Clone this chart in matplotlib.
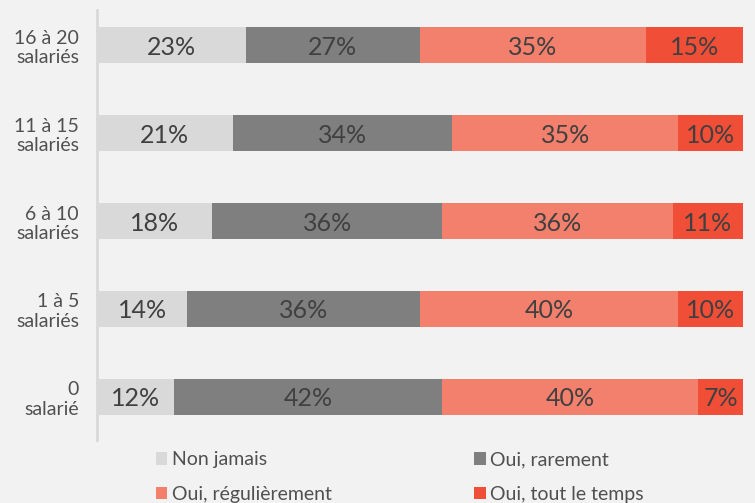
import numpy as np
import matplotlib.pyplot as plt

# categories, top to bottom
categories = ['16 à 20\nsalariés', '11 à 15\nsalariés', '6 à 10\nsalariés',
              '1 à 5\nsalariés', '0\nsalarié']
series = ['Non jamais', 'Oui, rarement', 'Oui, régulièrement', 'Oui, tout le temps']
non_jamais = [23, 21, 18, 14, 12]
rarement = [27, 34, 36, 36, 42]
regulierement = [35, 35, 36, 40, 40]
tout_le_temps = [15, 10, 11, 10, 7]

colors = ['#d9d9d9', '#7f7f7f', '#f2806c', '#f04e37']
bg = '#f2f2f2'

plt.rcParams['font.family'] = ['Lato', 'DejaVu Sans']

data = np.array([non_jamais, rarement, regulierement, tout_le_temps], dtype=float)
# bars are stretched to the full width (some rows add up to 101)
shares = data / data.sum(axis=0) * 100

fig = plt.figure(figsize=(7.55, 5.03), dpi=100, facecolor=bg)
ax = fig.add_axes([97 / 755, 63 / 503, 646 / 755, 430 / 503])
ax.set_facecolor(bg)

y = np.arange(len(categories))[::-1]
left = np.zeros(len(categories))
for i in range(len(series)):
    ax.barh(y, shares[i], left=left, height=0.41, color=colors[i], label=series[i])
    for j in range(len(categories)):
        ax.text(left[j] + shares[i][j] / 2, y[j], '%d%%' % data[i][j],
                ha='center', va='center_baseline', fontsize=18, color='#404040')
    left = left + shares[i]

ax.set_xlim(0, 100)
ax.set_ylim(-0.49, 4.4)
ax.set_yticks(y)
ax.set_yticklabels(categories, fontsize=14, color='#505050', linespacing=1.15)
ax.tick_params(axis='y', length=0, pad=13)
ax.set_xticks([])
for s in ['top', 'right', 'bottom']:
    ax.spines[s].set_visible(False)
ax.spines['left'].set_color('#d9d9d9')
ax.spines['left'].set_linewidth(2)

handles, labels = ax.get_legend_handles_labels()
order = [0, 2, 1, 3]
fig.legend([handles[k] for k in order], [labels[k] for k in order], ncol=2,
           loc='upper left', bbox_to_anchor=(138 / 755, 1 - 434 / 503),
           frameon=False, fontsize=14, handlelength=0.6, handleheight=0.6,
           handletextpad=0.25, columnspacing=7.3, labelspacing=0.9,
           labelcolor='#505050')

fig.savefig('out.png', dpi=100, facecolor=bg)
